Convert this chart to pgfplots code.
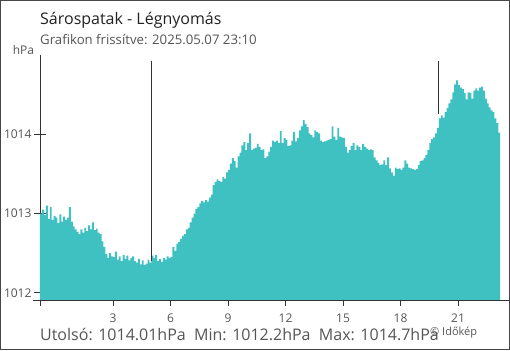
\documentclass[border=0pt]{standalone}
\usepackage{pgfplots}
\pgfplotsset{compat=1.18}
\usepackage{fontspec}
\setmainfont{Open Sans}
\definecolor{barc}{RGB}{64,193,193}
\definecolor{axc}{RGB}{51,51,51}
\definecolor{txt}{RGB}{85,85,85}
\definecolor{ttl}{RGB}{34,34,34}
\begin{document}
\begin{tikzpicture}
\useasboundingbox (0pt,0pt) rectangle (510pt,350pt);
\draw[color=axc!90, line width=1pt] (0.5pt,0.5pt) rectangle (509.5pt,349.5pt);
\begin{axis}[
  at={(40pt,50pt)}, anchor=south west,
  scale only axis, width=469pt, height=245pt,
  xmin=-0.81, xmax=23.66, ymin=1011.91, ymax=1015.0,
  axis line style={draw=none},
  tick pos=left,
  xtick={-0.81,3,6,9,12,15,18,21},
  xticklabels={,3,6,9,12,15,18,21},
  ytick={1012,1013,1014},
  yticklabels={1012,1013,1014},
  tick align=center,
  major tick length=12pt,
  tick style={color=axc, line width=0.8pt},
  ticklabel style={font=\fontsize{12}{14}\selectfont, text=txt},
  xticklabel style={yshift=-4pt},
  yticklabel style={xshift=1pt},
  clip=false,
]
\draw[color=axc, line width=0.8pt] (axis cs:-0.81,1011.91) -- (axis cs:-0.81,1015.0);
\draw[color=axc, line width=0.8pt] (axis cs:-1.17,1011.91) -- (axis cs:23.66,1011.91);
\addplot[fill=barc, draw=none, const plot mark left] coordinates {
(-0.81,1011.91)
(-0.81,1013.00) (-0.7,1013.05) (-0.6,1012.98) (-0.5,1013.10) (-0.4,1012.93) (-0.3,1013.08) (-0.2,1012.92) (-0.1,1012.97)
(0.0,1012.95) (0.1,1012.88) (0.2,1012.99) (0.3,1012.90) (0.4,1012.96) (0.5,1012.92) (0.6,1012.95) (0.7,1013.08) (0.8,1012.90) (0.9,1012.84)
(1.0,1012.80) (1.1,1012.77) (1.2,1012.74) (1.3,1012.80) (1.4,1012.76) (1.5,1012.82) (1.6,1012.78) (1.7,1012.85) (1.8,1012.80) (1.9,1012.89)
(2.0,1012.79) (2.1,1012.81) (2.2,1012.76) (2.3,1012.74) (2.4,1012.65) (2.5,1012.58) (2.6,1012.49) (2.7,1012.44) (2.8,1012.50) (2.9,1012.46)
(3.0,1012.45) (3.1,1012.52) (3.2,1012.42) (3.3,1012.46) (3.4,1012.40) (3.5,1012.48) (3.6,1012.43) (3.7,1012.47) (3.8,1012.41) (3.9,1012.44)
(4.0,1012.46) (4.1,1012.40) (4.2,1012.38) (4.3,1012.43) (4.4,1012.36) (4.5,1012.41) (4.6,1012.35) (4.7,1012.37) (4.8,1012.42) (4.9,1012.38)
(5.0,1012.47) (5.1,1012.44) (5.2,1012.48) (5.3,1012.40) (5.4,1012.43) (5.5,1012.39) (5.6,1012.44) (5.7,1012.42) (5.8,1012.46) (5.9,1012.44)
(6.0,1012.45) (6.1,1012.58) (6.2,1012.53) (6.3,1012.62) (6.4,1012.64) (6.5,1012.68) (6.6,1012.72) (6.7,1012.74) (6.8,1012.80) (6.9,1012.82)
(7.0,1012.89) (7.1,1012.95) (7.2,1013.00) (7.3,1013.06) (7.4,1013.08) (7.5,1013.13) (7.6,1013.16) (7.7,1013.14) (7.8,1013.17) (7.9,1013.15)
(8.0,1013.20) (8.1,1013.24) (8.2,1013.36) (8.3,1013.40) (8.4,1013.43) (8.5,1013.41) (8.6,1013.40) (8.7,1013.46) (8.8,1013.44) (8.9,1013.52)
(9.0,1013.55) (9.1,1013.63) (9.2,1013.70) (9.3,1013.66) (9.4,1013.58) (9.5,1013.72) (9.6,1013.77) (9.7,1013.86) (9.8,1013.90) (9.9,1013.80)
(10.0,1013.89) (10.1,1014.01) (10.2,1013.80) (10.3,1013.82) (10.4,1013.83) (10.5,1013.88) (10.6,1013.84) (10.7,1013.80) (10.8,1013.81) (10.9,1013.70)
(11.0,1013.72) (11.1,1013.78) (11.2,1013.84) (11.3,1013.92) (11.4,1013.90) (11.5,1013.92) (11.6,1013.89) (11.7,1014.04) (11.8,1013.89) (11.9,1013.95)
(12.0,1013.93) (12.1,1013.85) (12.2,1013.86) (12.3,1013.92) (12.4,1014.03) (12.5,1013.91) (12.6,1013.95) (12.7,1014.05) (12.8,1014.10) (12.9,1014.18)
(13.0,1014.13) (13.1,1014.09) (13.2,1014.01) (13.3,1013.99) (13.4,1013.96) (13.5,1014.05) (13.6,1014.03) (13.7,1014.01) (13.8,1013.92) (13.9,1013.90)
(14.0,1013.91) (14.1,1013.92) (14.2,1013.93) (14.3,1013.94) (14.4,1014.10) (14.5,1013.97) (14.6,1013.93) (14.7,1014.08) (14.8,1013.97) (14.9,1013.96)
(15.0,1013.95) (15.1,1013.84) (15.2,1013.77) (15.3,1013.80) (15.4,1013.85) (15.5,1013.89) (15.6,1013.80) (15.7,1013.86) (15.8,1013.84) (15.9,1013.80)
(16.0,1013.88) (16.1,1013.84) (16.2,1013.82) (16.3,1013.80) (16.4,1013.81) (16.5,1013.80) (16.6,1013.71) (16.7,1013.67) (16.8,1013.64) (16.9,1013.61)
(17.0,1013.62) (17.1,1013.67) (17.2,1013.61) (17.3,1013.71) (17.4,1013.57) (17.5,1013.52) (17.6,1013.48) (17.7,1013.58) (17.8,1013.56) (17.9,1013.57)
(18.0,1013.55) (18.1,1013.58) (18.2,1013.67) (18.3,1013.63) (18.4,1013.58) (18.5,1013.57) (18.6,1013.56) (18.7,1013.55) (18.8,1013.56) (18.9,1013.61)
(19.0,1013.66) (19.1,1013.67) (19.2,1013.70) (19.3,1013.74) (19.4,1013.80) (19.5,1013.89) (19.6,1013.94) (19.7,1013.96) (19.8,1014.01) (19.9,1014.08)
(20.0,1014.20) (20.1,1014.24) (20.2,1014.21) (20.3,1014.28) (20.4,1014.33) (20.5,1014.39) (20.6,1014.44) (20.7,1014.53) (20.8,1014.63) (20.9,1014.68)
(21.0,1014.62) (21.1,1014.59) (21.2,1014.57) (21.3,1014.52) (21.4,1014.44) (21.5,1014.53) (21.6,1014.52) (21.7,1014.45) (21.8,1014.55) (21.9,1014.58)
(22.0,1014.55) (22.1,1014.59) (22.2,1014.60) (22.3,1014.55) (22.4,1014.45) (22.5,1014.39) (22.6,1014.34) (22.7,1014.30) (22.8,1014.28) (22.9,1014.20)
(23.0,1014.14) (23.1,1014.02) (23.2,1014.02)
(23.2,1011.91)
};
\addplot[color=axc, line width=1pt] coordinates {(5,1014.93) (5,1012.40)};
\addplot[color=axc, line width=1pt] coordinates {(20,1014.93) (20,1014.26)};
\end{axis}
\node[anchor=base west, inner sep=0, font=\fontsize{16}{19}\selectfont, text=ttl] at (40pt,325.7pt) {Sárospatak - Légnyomás};
\node[anchor=base west, inner sep=0, font=\fontsize{13.2}{15}\selectfont, text=txt] at (40pt,305pt) {Grafikon frissítve: 2025.05.07 23:10};
\node[anchor=base east, inner sep=0, font=\fontsize{12}{14}\selectfont, text=txt] at (34.3pt,295pt) {hPa};
\node[anchor=base west, inner sep=0, font=\fontsize{16}{19}\selectfont, text=txt] at (40pt,10pt) {Utolsó: 1014.01hPa\ \ Min: 1012.2hPa\ \ Max: 1014.7hPa};
\node[anchor=base west, inner sep=0, font=\fontsize{11}{13}\selectfont, text=txt] at (430pt,15pt) {© Időkép};
\end{tikzpicture}
\end{document}
